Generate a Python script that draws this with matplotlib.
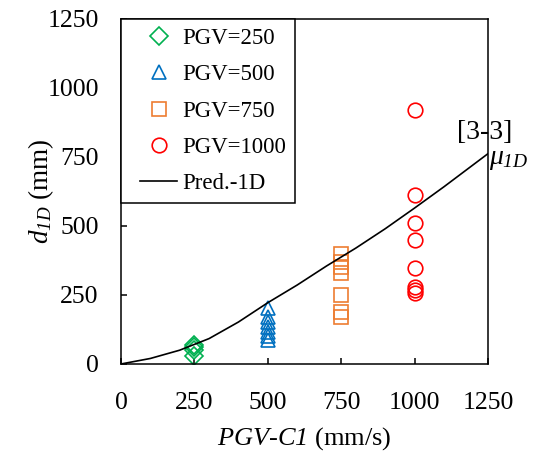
import matplotlib
matplotlib.use("Agg")
import matplotlib.pyplot as plt
from matplotlib.legend_handler import HandlerLine2D
from matplotlib.lines import Line2D

plt.rcParams['font.family'] = ['Liberation Serif', 'DejaVu Serif']
plt.rcParams['mathtext.fontset'] = 'custom'
# everything written in mathtext here is italic, digits included
plt.rcParams['mathtext.rm'] = 'Liberation Serif:italic'
plt.rcParams['mathtext.it'] = 'Liberation Serif:italic'

# data
pgv250_x = [250, 250, 250, 250]
pgv250_y = [70, 60, 50, 28]
pgv500_x = [500] * 7
pgv500_y = [202, 171, 153, 135, 117, 101, 87]
pgv750_x = [750] * 7
pgv750_y = [398, 371, 350, 329, 250, 190, 172]
pgv1000_x = [1000] * 8
pgv1000_y = [920, 612, 510, 449, 349, 278, 268, 256]

pred_x = [0, 100, 200, 300, 400, 500, 600, 700, 800, 900, 1000, 1100, 1200, 1250]
pred_y = [0, 20, 50, 92, 152, 222, 286, 355, 420, 490, 565, 642, 722, 762]

fig = plt.figure(figsize=(5.37, 4.53), dpi=100)
ax = fig.add_axes([0.2253, 0.1965, 0.6834, 0.7616])

ms = 10.5
ax.plot(pgv250_x, pgv250_y, 'D', ms=9.5, mfc='none', mec='#00B050', mew=1.2, ls='none', label='PGV=250')
ax.plot(pgv500_x, pgv500_y, '^', ms=ms, mfc='none', mec='#0070C0', mew=1.2, ls='none', label='PGV=500')
ax.plot(pgv750_x, pgv750_y, 's', ms=ms, mfc='none', mec='#ED7D31', mew=1.2, ls='none', label='PGV=750')
ax.plot(pgv1000_x, pgv1000_y, 'o', ms=ms, mfc='none', mec='#FF0000', mew=1.2, ls='none', label='PGV=1000')
ax.plot(pred_x, pred_y, '-', color='black', lw=1.2, label='Pred.-1D')

ax.set_xlim(0, 1250)
ax.set_ylim(0, 1250)
ax.set_xticks([0, 250, 500, 750, 1000, 1250])
ax.set_yticks([0, 250, 500, 750, 1000, 1250])
ax.tick_params(direction='in', length=4, width=1.1, labelsize=18.5,
               top=False, right=False)
ax.tick_params(axis='x', pad=20)
ax.tick_params(axis='y', pad=16)
for s in ax.spines.values():
    s.set_linewidth(1.1)

ax.set_xlabel(r'$PGV$-$C1$ (mm/s)', fontsize=19, labelpad=8)
ax.set_ylabel(r'$d_{1D}$ (mm)', fontsize=19.5, labelpad=-6)

leg = ax.legend(loc='upper left', fontsize=16.5, frameon=True, fancybox=False,
                edgecolor='black', framealpha=1, borderaxespad=0, labelspacing=0.66,
                handlelength=2.05, handletextpad=0.22, borderpad=0.4,
                handler_map={Line2D: HandlerLine2D(xpad=0.45)})
leg.get_frame().set_linewidth(1.1)

ax.text(1240, 840, '[3-3]', fontsize=20, ha='center', va='center', clip_on=False)
ax.text(1255, 740, r'$\mu_{1D}$', fontsize=20, ha='left', va='center', clip_on=False)

fig.savefig('out.png', dpi=100)
